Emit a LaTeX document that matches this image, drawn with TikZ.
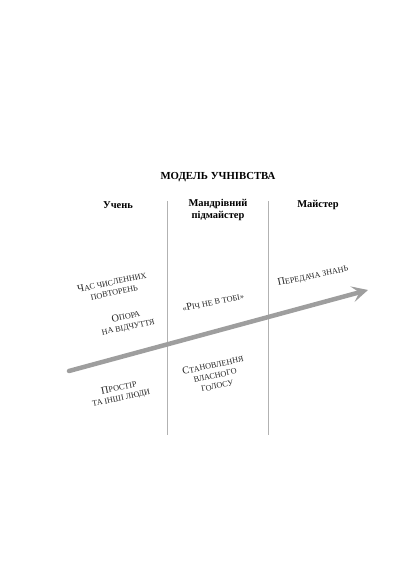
\documentclass[tikz,border=0pt]{standalone}
\usepackage{fontspec}
\setmainfont{Liberation Serif}
\usetikzlibrary{arrows.meta}

\newcommand{\capletter}[1]{{\fontsize{10.4}{11}\selectfont #1}}

\begin{document}
\begin{tikzpicture}[x=1bp,y=1bp,
        heading/.style={font=\bfseries\fontsize{10.5}{11.5}\selectfont,align=center},
        note/.style={font=\fontsize{8.2}{10.5}\selectfont,align=center,rotate=12,
            text=black!85,inner sep=1bp},
        divider/.style={draw=black!30,line width=0.9bp},
        growth/.style={draw=black!38,line width=4.5bp,line cap=round,
            -{Stealth[length=16bp,width=16bp,inset=7bp]}}]

  \useasboundingbox (0,0) rectangle (416,582);

  \node[heading,font=\bfseries\fontsize{10.8}{12}\selectfont] (title) at (218,405) {МОДЕЛЬ УЧНІВСТВА};

  \node[heading] (pupil) at (118,377) {Учень};
  \node[heading] (journeyman) at (218,372) {Мандрівний\\підмайстер};
  \node[heading] (master) at (318,377) {Майстер};

  \coordinate (d1top) at (167,381);
  \coordinate (d1bot) at (167,147);
  \coordinate (d2top) at (268,381);
  \coordinate (d2bot) at (268,147);
  \draw[divider] (d1top) -- (d1bot);
  \draw[divider] (d2top) -- (d2bot);

  \coordinate (start) at (69,211);
  \coordinate (end) at (368,292);
  \draw[growth] (start) -- (end);

  \node[note] (repeat) at (113,295) {\capletter{Ч}АС ЧИСЛЕННИХ\\ПОВТОРЕНЬ};
  \node[note] (feeling) at (127,260) {\capletter{О}ПОРА\\НА ВІДЧУТТЯ};
  \node[note] (space) at (120,189) {\capletter{П}РОСТІР\\ТА ІНШІ ЛЮДИ};
  \node[note] (thing) at (213,280) {«\capletter{Р}ІЧ НЕ В ТОБІ»};
  \node[note] (voice) at (215,207) {\capletter{С}ТАНОВЛЕННЯ\\ВЛАСНОГО\\ГОЛОСУ};
  \node[note] (transfer) at (313,306) {\capletter{П}ЕРЕДАЧА ЗНАНЬ};

\end{tikzpicture}
\end{document}
